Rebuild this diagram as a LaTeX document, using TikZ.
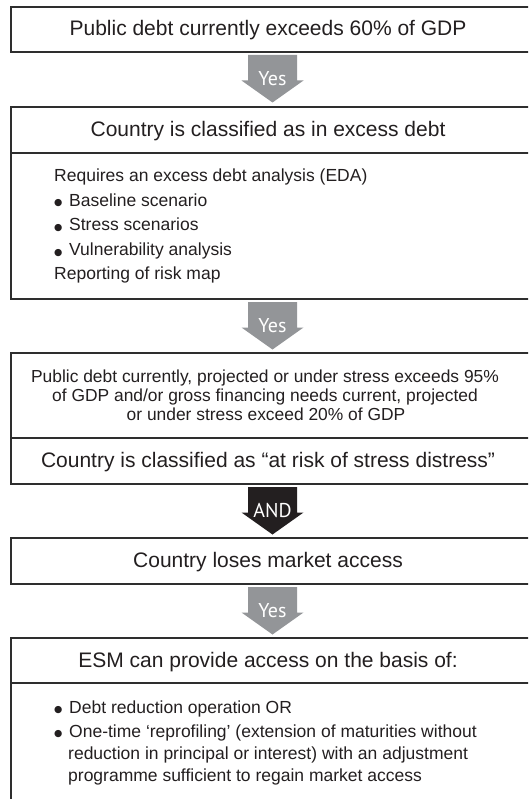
\documentclass[tikz,border=0pt]{standalone}
\usepackage{fontspec}
\setmainfont{Liberation Sans}
\newfontfamily\labelfont{PT Sans}
\newfontfamily\symfont{DejaVu Sans}
\usetikzlibrary{calc}
\definecolor{ink}{HTML}{231F20}
\definecolor{boxline}{HTML}{2E2E2E}
\definecolor{arrowgray}{HTML}{939598}
\newcommand\bul{\makebox[15pt][l]{\raisebox{0.2pt}{\symfont\fontsize{9.5}{10}\selectfont ●}}}
\begin{document}
\begin{tikzpicture}[x=1pt,y=-1pt,
  frame/.style={draw=boxline,line width=1.4pt,fill=white,inner sep=0pt,outer sep=0pt,minimum width=523pt},
  divider/.style={draw=boxline,line width=1.4pt},
  title/.style={font=\fontsize{21}{25}\selectfont,text=ink,anchor=base,inner sep=0pt},
  body/.style={font=\fontsize{17.5}{20}\selectfont,text=ink,anchor=base west,inner sep=0pt},
  bodyc/.style={font=\fontsize{17.4}{20}\selectfont,text=ink,anchor=base,inner sep=0pt},
  arrowlabel/.style={font=\labelfont\fontsize{20}{22}\selectfont,text=white,anchor=base,inner sep=0pt},
  blockarrow/.pic={\fill[pic actions] (-24.5,0) -- (24.5,0) -- (24.5,25.5) -- (31,25.5)
        -- (0,47.5) -- (-31,25.5) -- (-24.5,25.5) -- cycle;}
]
\useasboundingbox (0,0) rectangle (528,799);
\clip (0,0) rectangle (528,799);
\fill[white] (0,0) rectangle (528,799);

% boxes
\node[frame,minimum height=45pt]  (b1) at (272.5,29.5) {};
\node[frame,minimum height=192pt] (b2) at (272.5,203) {};
\node[frame,minimum height=131pt] (b3) at (272.5,418.5) {};
\node[frame,minimum height=46pt]  (b4) at (272.5,561) {};
\node[frame,minimum height=192pt] (b5) at (272.5,734) {};

% header separators
\draw[divider] ($(b2.north west)+(0,46)$) -- ($(b2.north east)+(0,46)$);
\draw[divider] ($(b3.south west)+(0,-46)$) -- ($(b3.south east)+(0,-46)$);
\draw[divider] ($(b5.north west)+(0,45)$) -- ($(b5.north east)+(0,45)$);

% block arrows between the boxes
\pic[fill=arrowgray] (a1) at ($(b1.south)+(0,3)$) {blockarrow};
\pic[fill=arrowgray] (a2) at ($(b2.south)+(0,3)$) {blockarrow};
\pic[fill=ink]       (a3) at ($(b3.south)+(0,3)$) {blockarrow};
\pic[fill=arrowgray] (a4) at ($(b4.south)+(0,3)$) {blockarrow};
\node[arrowlabel] (l1) at ($(b1.south)+(0,33.5)$) {Yes};
\node[arrowlabel] (l2) at ($(b2.south)+(0,33.5)$) {Yes};
\node[arrowlabel] (l3) at ($(b3.south)+(0,33.5)$) {AND};
\node[arrowlabel] (l4) at ($(b4.south)+(0,33.5)$) {Yes};

% titles
\node[title] (t1) at (268,36) {Public debt currently exceeds 60\% of GDP};
\node[title] (t2) at (268,136.5) {Country is classified as in excess debt};
\node[title] (t3) at (268,467.5) {Country is classified as “at risk of stress distress”};
\node[title] (t4) at (268,567.5) {Country loses market access};
\node[title] (t5) at (268,667) {ESM can provide access on the basis of:};

% excess debt analysis
\node[body] (e1) at (54,181.5) {Requires an excess debt analysis (EDA)};
\node[body] (e2) at (54,206.1) {\bul Baseline scenario};
\node[body] (e3) at (54,230.7) {\bul Stress scenarios};
\node[body] (e4) at (54,255.3) {\bul Vulnerability analysis};
\node[body] (e5) at (54,279.9) {Reporting of risk map};

% thresholds
\node[bodyc] (s1) at (265,382.5) {Public debt currently, projected or under stress exceeds 95\%};
\node[bodyc] (s2) at (265,401.5) {of GDP and/or gross financing needs current, projected};
\node[bodyc] (s3) at (266,420.5) {or under stress exceed 20\% of GDP};

% ESM options
\node[body] (o1) at (54,713) {\bul Debt reduction operation OR};
\node[body] (o2) at (54,737) {\bul One-time ‘reprofiling’ (extension of maturities without};
\node[body] (o3) at (68,759) {reduction in principal or interest) with an adjustment};
\node[body] (o4) at (68,781) {programme sufficient to regain market access};
\end{tikzpicture}
\end{document}
